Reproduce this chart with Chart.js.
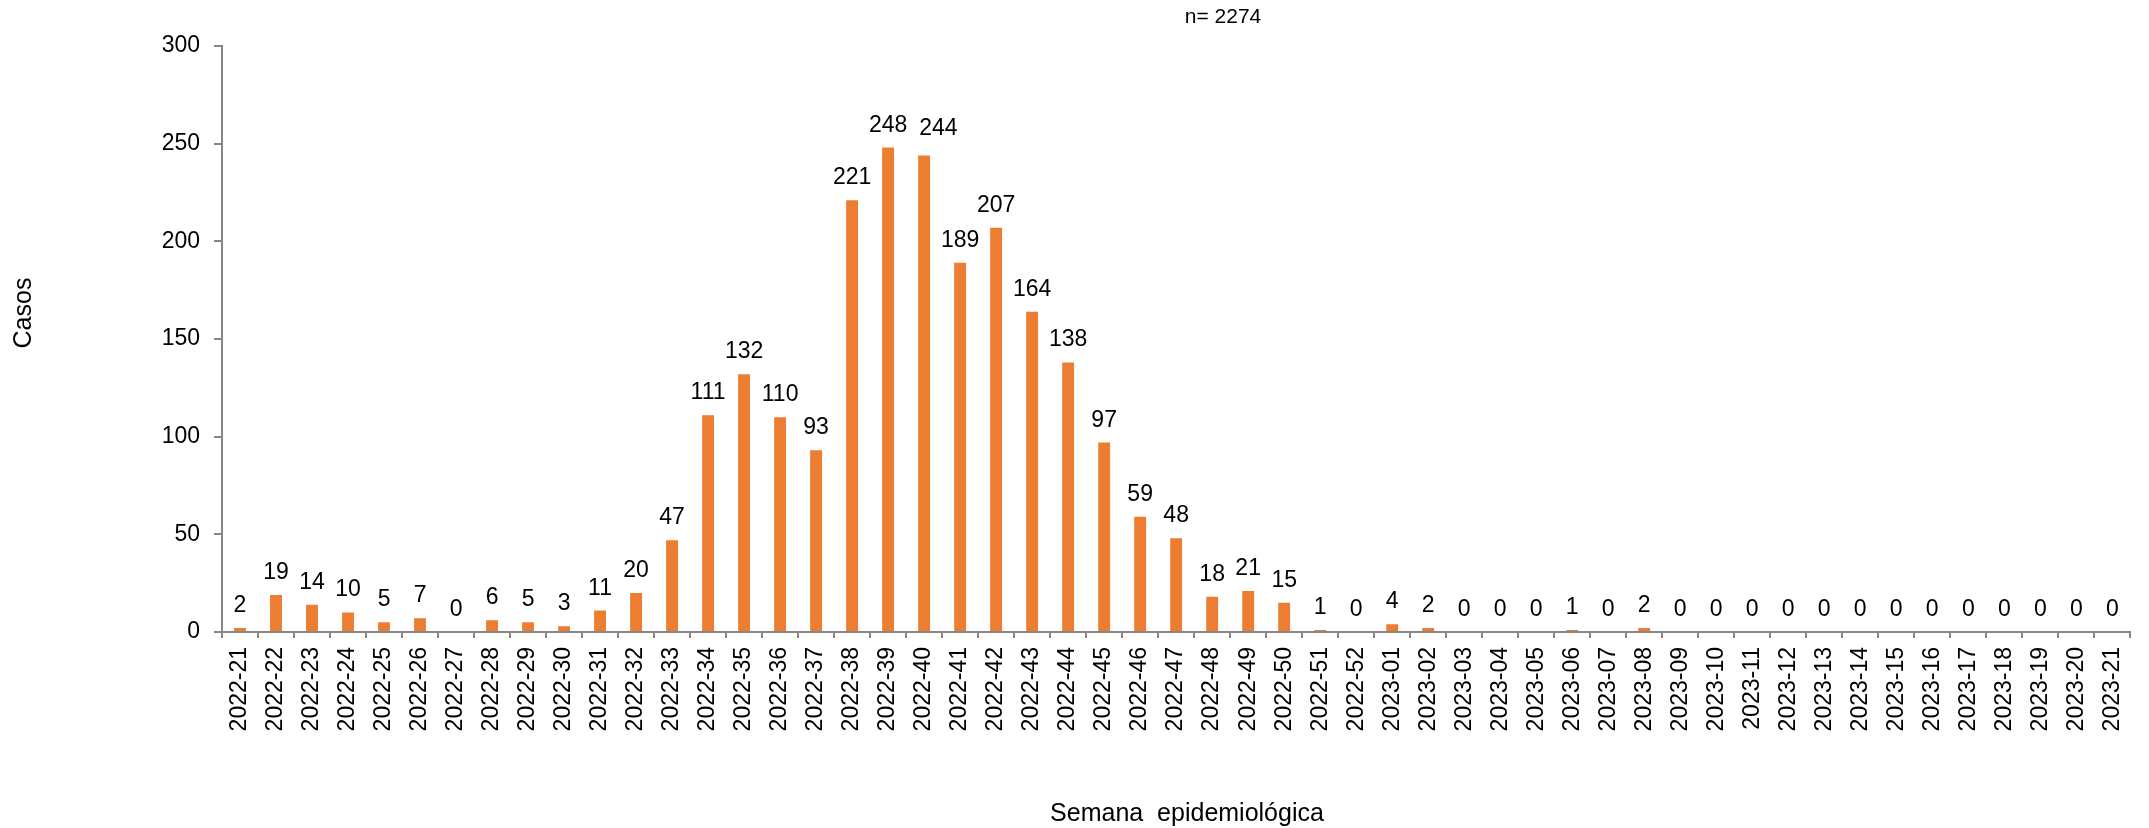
<!DOCTYPE html>
<html>
<head>
<meta charset="utf-8">
<script src="https://cdn.jsdelivr.net/npm/chart.js@4/dist/chart.umd.min.js"></script>
<style>
  html, body { margin: 0; padding: 0; background: #ffffff; }
  #wrap { width: 2149px; height: 828px; }
</style>
</head>
<body>
<div id="wrap"><canvas id="c" width="2149" height="828"></canvas></div>
<script>
const weeks = [
  "2022-21","2022-22","2022-23","2022-24","2022-25","2022-26","2022-27","2022-28","2022-29","2022-30",
  "2022-31","2022-32","2022-33","2022-34","2022-35","2022-36","2022-37","2022-38","2022-39","2022-40",
  "2022-41","2022-42","2022-43","2022-44","2022-45","2022-46","2022-47","2022-48","2022-49","2022-50",
  "2022-51","2022-52","2023-01","2023-02","2023-03","2023-04","2023-05","2023-06","2023-07","2023-08",
  "2023-09","2023-10","2023-11","2023-12","2023-13","2023-14","2023-15","2023-16","2023-17","2023-18",
  "2023-19","2023-20","2023-21"
];
const casos = [
  2, 19, 14, 10, 5, 7, 0, 6, 5, 3,
  11, 20, 47, 111, 132, 110, 93, 221, 248, 244,
  189, 207, 164, 138, 97, 59, 48, 18, 21, 15,
  1, 0, 4, 2, 0, 0, 0, 1, 0, 2,
  0, 0, 0, 0, 0, 0, 0, 0, 0, 0,
  0, 0, 0
];
const yTicks = [0, 50, 100, 150, 200, 250, 300];
const yTitle = "Casos";
const xTitle = "Semana  epidemiológica";
const noteText = "n= 2274";

const FONT = "'Liberation Sans', Arial, sans-serif";
const AXIS = "#868686";
const BAR = "#ED7D31";

// value labels above bars, with simple collision avoidance (label moved right/up when it collides with the previous one)
const labelsPlugin = {
  id: 'barLabels',
  afterDatasetsDraw(chart) {
    const ctx = chart.ctx;
    const meta = chart.getDatasetMeta(0);
    ctx.save();
    ctx.font = "23px " + FONT;
    ctx.fillStyle = "#000000";
    ctx.textAlign = "center";
    ctx.textBaseline = "alphabetic";
    let prev = null;
    meta.data.forEach((bar, i) => {
      const txt = String(casos[i]);
      const w = ctx.measureText(txt).width;
      let x = bar.x;
      let y = bar.y - 16;
      if (prev) {
        const hOverlap = (x - w / 2) < prev.right + 2;
        const vOverlap = Math.abs(y - prev.y) < 18;
        if (hOverlap && vOverlap) {
          x = prev.right + 12 + w / 2;
          y -= 4;
        }
      }
      ctx.fillText(txt, x, y);
      prev = { right: x + w / 2, y: y };
    });
    ctx.restore();
  }
};

const textPlugin = {
  id: 'extraText',
  afterDraw(chart) {
    const ctx = chart.ctx;
    ctx.save();
    ctx.fillStyle = "#000000";
    ctx.textAlign = "center";
    ctx.textBaseline = "middle";
    ctx.font = "25px " + FONT;
    ctx.save();
    ctx.translate(24, 313);
    ctx.rotate(-Math.PI / 2);
    ctx.fillText(yTitle, 0, 0);
    ctx.restore();
    ctx.font = "25px " + FONT;
    ctx.fillText(xTitle, 1187, 814);
    ctx.font = "21px " + FONT;
    ctx.fillText(noteText, 1223, 17);
    ctx.restore();
  }
};

new Chart(document.getElementById('c'), {
  type: 'bar',
  data: {
    labels: weeks,
    datasets: [{
      data: casos,
      backgroundColor: BAR,
      borderWidth: 0,
      barPercentage: 0.33,
      categoryPercentage: 1.0
    }]
  },
  options: {
    responsive: false,
    animation: false,
    devicePixelRatio: 1,
    layout: { padding: { top: 46, right: 11, left: 0, bottom: 0 } },
    plugins: {
      legend: { display: false },
      tooltip: { enabled: false },
      title: { display: false }
    },
    scales: {
      x: {
        offset: true,
        grid: {
          offset: true,
          drawOnChartArea: false,
          drawTicks: true,
          tickLength: 6,
          color: AXIS,
          lineWidth: 2
        },
        border: { display: true, color: AXIS, width: 2 },
        ticks: {
          autoSkip: false,
          minRotation: 90,
          maxRotation: 90,
          padding: 9,
          color: "#000000",
          font: { family: FONT, size: 23 }
        },
        afterFit(scale) { scale.height = 196; }
      },
      y: {
        min: 0,
        max: 300,
        afterBuildTicks(scale) { scale.ticks = yTicks.map(v => ({ value: v })); },
        grid: {
          drawOnChartArea: false,
          drawTicks: true,
          tickLength: 8,
          color: AXIS,
          lineWidth: 2
        },
        border: { display: true, color: AXIS, width: 2 },
        ticks: {
          padding: 14,
          color: "#000000",
          font: { family: FONT, size: 23 }
        },
        afterFit(scale) { scale.width = 222; }
      }
    }
  },
  plugins: [labelsPlugin, textPlugin]
});
</script>
</body>
</html>
